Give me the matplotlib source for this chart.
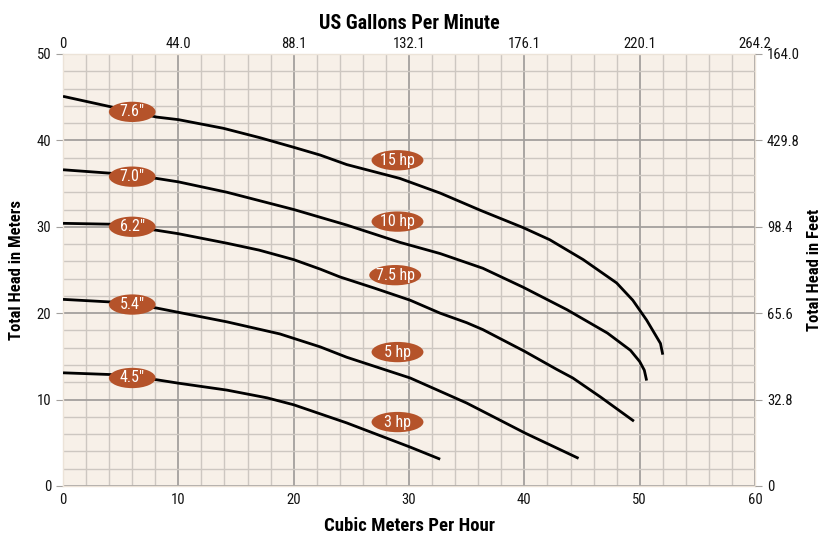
import matplotlib
matplotlib.use("Agg")
import matplotlib.pyplot as plt
from matplotlib.ticker import MultipleLocator, FixedLocator
from matplotlib.patches import Ellipse

plt.rcParams['font.family'] = ['Roboto Condensed', 'Liberation Sans Narrow', 'Roboto', 'DejaVu Sans']

# Data (flow in m³/h, head in m)
flow_76 = [0, 4.1, 8.1, 10, 13.9, 17.1, 20, 22.3, 24.6, 29.2, 32.7, 36.2, 39.9, 42.2, 45.1, 48.0, 49.4, 50.6, 51.8, 52.0]
head_76 = [45.1, 43.9, 42.7, 42.4, 41.4, 40.3, 39.2, 38.3, 37.2, 35.6, 33.9, 31.9, 29.9, 28.5, 26.2, 23.5, 21.5, 19.2, 16.5, 15.2]
flow_70 = [0, 4.1, 8.1, 10, 14.2, 20, 22.3, 24.6, 29.2, 32.7, 36.4, 39.9, 43.7, 47.2, 49.2, 50.0, 50.4, 50.6]
head_70 = [36.6, 36.2, 35.6, 35.2, 34.0, 32.0, 31.1, 30.2, 28.2, 26.9, 25.2, 23.0, 20.4, 17.7, 15.7, 14.4, 13.4, 12.2]
flow_62 = [0, 4.1, 8.1, 10, 14.2, 17.0, 20, 22.3, 24.0, 27.0, 30.1, 32.7, 35.0, 36.4, 40.0, 42.8, 44.2, 46.6, 49.5]
head_62 = [30.4, 30.3, 29.6, 29.2, 28.1, 27.3, 26.2, 25.1, 24.2, 22.9, 21.5, 20.0, 18.9, 18.1, 15.6, 13.5, 12.5, 10.3, 7.5]
flow_54 = [0, 4.1, 8.1, 10, 14.2, 18.8, 22.3, 24.6, 30.1, 35.0, 40.1, 44.7]
head_54 = [21.6, 21.3, 20.6, 20.1, 19.0, 17.6, 16.1, 14.9, 12.5, 9.6, 6.1, 3.2]
flow_45 = [0, 4.1, 8.1, 10, 14.2, 17.7, 20, 24.6, 30.1, 32.7]
head_45 = [13.1, 12.9, 12.3, 11.9, 11.1, 10.2, 9.4, 7.3, 4.5, 3.1]

curve_flows = [flow_76, flow_70, flow_62, flow_54, flow_45]
curve_heads = [head_76, head_70, head_62, head_54, head_45]

diam_labels = ['7.6"', '7.0"', '6.2"', '5.4"', '4.5"']
diam_label_x = [6, 6, 6, 6, 6]
diam_label_y = [43.3, 35.8, 30.0, 21.0, 12.5]
hp_labels = ['15 hp', '10 hp', '7.5 hp', '5 hp', '3 hp']
hp_label_x = [29, 29, 28.8, 29, 29]
hp_label_y = [37.7, 30.6, 24.4, 15.5, 7.4]

x_ticks = [0, 10, 20, 30, 40, 50, 60]
y_ticks = [0, 10, 20, 30, 40, 50]
gpm_labels = ['0', '44.0', '88.1', '132.1', '176.1', '220.1', '264.2']
feet_labels = ['0', '32.8', '65.6', '98.4', '429.8', '164.0']

fig = plt.figure(figsize=(8.25, 5.35), dpi=100)
ax = fig.add_axes([0.0764, 0.0916, 0.8388, 0.8075])
ax.set_facecolor('#f7f0e8')
ax.set_xlim(0, 60)
ax.set_ylim(0, 50)

ax.xaxis.set_major_locator(FixedLocator(x_ticks))
ax.yaxis.set_major_locator(FixedLocator(y_ticks))
ax.xaxis.set_minor_locator(MultipleLocator(2))
ax.yaxis.set_minor_locator(MultipleLocator(2))
ax.grid(which='minor', color='#cdc7c1', linewidth=1.0)
ax.grid(which='major', color='#a3a09d', linewidth=1.3)
ax.set_axisbelow(True)
for s in ax.spines.values():
    s.set_color('#ece3d8')
    s.set_linewidth(1.0)

tick_color = '#111111'
tick_fs = 10.5
ax.tick_params(which='minor', length=0)
ax.tick_params(which='major', length=5, color='#a3a09d', labelsize=tick_fs, labelcolor=tick_color)
ax.tick_params(axis='x', length=0, pad=5)
ax.set_xticklabels([str(t) for t in x_ticks])
ax.set_yticklabels([str(t) for t in y_ticks])

for fx, hy in zip(curve_flows, curve_heads):
    ax.plot(fx, hy, color='black', linewidth=2.0, solid_capstyle='butt',
            solid_joinstyle='round', zorder=3)

label_color = '#b5532a'
for t, x, y in zip(diam_labels, diam_label_x, diam_label_y):
    ax.add_patch(Ellipse((x, y), 4.05, 2.35, facecolor=label_color, edgecolor='none', zorder=4))
    ax.text(x, y, t, ha='center', va='center', color='white', fontsize=11.5, zorder=5)
for t, x, y in zip(hp_labels, hp_label_x, hp_label_y):
    ax.add_patch(Ellipse((x, y), 4.5, 2.35, facecolor=label_color, edgecolor='none', zorder=4))
    ax.text(x, y, t, ha='center', va='center', color='white', fontsize=11.5, zorder=5)

ax.set_xlabel('Cubic Meters Per Hour', fontsize=13.5, fontweight='bold', labelpad=7)
ax.set_ylabel('Total Head in Meters', fontsize=12, fontweight='bold', labelpad=9)

# Top axis (US GPM)
axt = ax.twiny()
axt.set_xlim(ax.get_xlim())
axt.xaxis.set_major_locator(FixedLocator(x_ticks))
axt.set_xticklabels(gpm_labels)
axt.tick_params(axis='x', length=0, labelsize=tick_fs, pad=2, labelcolor=tick_color)
axt.set_xlabel('US Gallons Per Minute', fontsize=14.5, fontweight='bold', labelpad=6)
for s in axt.spines.values():
    s.set_visible(False)

# Right axis (feet)
axr = ax.twinx()
axr.set_ylim(ax.get_ylim())
axr.yaxis.set_major_locator(FixedLocator(y_ticks))
axr.set_yticklabels(feet_labels)
axr.tick_params(axis='y', length=5, color='#a3a09d', labelsize=tick_fs, labelcolor=tick_color)
axr.set_ylabel('Total Head in Feet', fontsize=12, fontweight='bold', labelpad=5)
for s in axr.spines.values():
    s.set_visible(False)

fig.savefig('out.png', dpi=100, facecolor='white')
